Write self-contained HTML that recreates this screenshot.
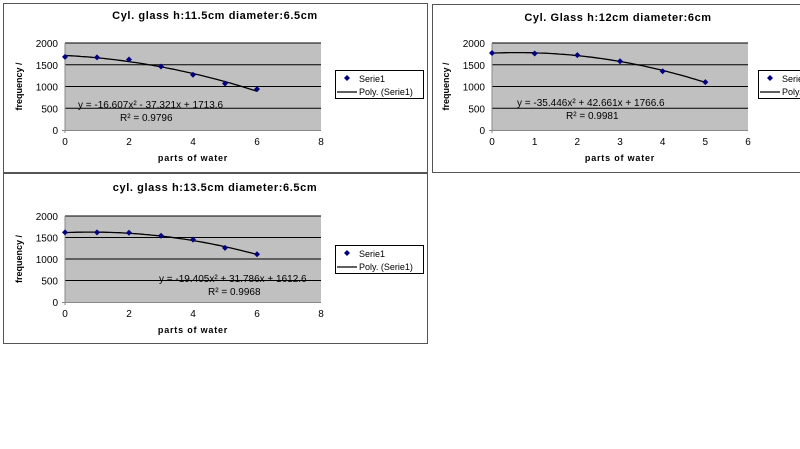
<!DOCTYPE html>
<html><head><meta charset="utf-8"><style>
html,body{margin:0;padding:0;background:#fff;width:800px;height:449px;overflow:hidden}
svg{display:block;font-family:"Liberation Sans",Arial,sans-serif}
</style></head><body>
<svg id="s" width="800" height="449"></svg>
<script>
const titles=["Cyl. glass h:11.5cm diameter:6.5cm","Cyl. Glass h:12cm  diameter:6cm","cyl. glass h:13.5cm diameter:6.5cm"];
const serie1=[1680,1670,1620,1460,1270,1070,940];
const serie2=[1770,1760,1720,1580,1350,1100];
const serie3=[1620,1620,1610,1540,1450,1260,1110];
const coef1=[-16.607,-37.321,1713.6];
const coef2=[-35.446,42.661,1766.6];
const coef3=[-19.405,31.786,1612.6];
const eqs=["y = -16.607x² - 37.321x + 1713.6","y = -35.446x² + 42.661x + 1766.6","y = -19.405x² + 31.786x + 1612.6"];
const r2s=["R² = 0.9796","R² = 0.9981","R² = 0.9968"];
const yTicks=[0,500,1000,1500,2000];
const xTicks1=[0,2,4,6,8], xTicks2=[0,1,2,3,4,5,6];
const NS="http://www.w3.org/2000/svg";
const svg=document.getElementById('s');
function mk(t,a,p,txt){const e=document.createElementNS(NS,t);for(const k in a)e.setAttribute(k,a[k]);if(txt!=null)e.textContent=txt;(p||svg).appendChild(e);return e;}
const cfg=[
 {box:[3,3,424,169],px0:65,px1:321,xmax:8,py0:130,py1:43,xt:xTicks1,data:serie1,coef:coef1,leg:[335,70],eq:[78,108],r2:[120,121],tx:215,ty:19},
 {box:[432,4,380,168],px0:492,px1:748,xmax:6,py0:130,py1:43,xt:xTicks2,data:serie2,coef:coef2,leg:[758,70],eq:[517,106],r2:[566,119],tx:618,ty:21},
 {box:[3,173,424,170],px0:65,px1:321,xmax:8,py0:302,py1:216,xt:xTicks1,data:serie3,coef:coef3,leg:[335,245],eq:[159,282],r2:[208,295],tx:215,ty:191}
];
cfg.forEach((c,i)=>{
 const g=mk('g',{});
 
 
 const b=mk('rect',{x:c.box[0]+.5,y:c.box[1]+.5,width:c.box[2],height:c.box[3],fill:'#fff',stroke:'#555','stroke-width':1},g);
 
 
 const X=v=>c.px0+(c.px1-c.px0)*v/c.xmax;
 const Y=v=>c.py0+(c.py1-c.py0)*v/2000;
 const t=mk('text',{x:c.tx,y:c.ty,'text-anchor':'middle','font-size':11,'font-weight':'bold','letter-spacing':'0.6'},g,titles[i]);
 
 
 const pa=mk('rect',{x:c.px0,y:Y(2000),width:c.px1-c.px0,height:Y(0)-Y(2000),fill:'#c0c0c0'},g);
 
 
 yTicks.forEach(v=>{
  if(v>0){const l=mk('line',{x1:c.px0,x2:c.px1,y1:Y(v),y2:Y(v),stroke:'#000','stroke-width':1},g);
  
  }
  const tl=mk('text',{x:c.px0-7,y:Y(v)+4,'text-anchor':'end','font-size':10},g,String(v));
  
  
 });
 mk('line',{x1:c.px0,x2:c.px0,y1:Y(2000),y2:Y(0)+3,stroke:'#888'},g);
 mk('line',{x1:c.px0-3,x2:c.px1,y1:Y(0)+.5,y2:Y(0)+.5,stroke:'#888'},g);
 c.xt.forEach(v=>{
  const xl=mk('text',{x:X(v),y:Y(0)+15,'text-anchor':'middle','font-size':10},g,String(v));
  
  
 });
 const xa=mk('text',{x:(c.px0+c.px1)/2,y:Y(0)+31,'text-anchor':'middle','font-size':9,'font-weight':'bold','letter-spacing':'0.8'},g,'parts of water');
 
 
 const ya=mk('text',{x:0,y:0,'text-anchor':'middle','font-size':9,'font-weight':'bold',transform:`translate(${c.px0-43},${(c.py0+c.py1)/2}) rotate(-90)`},g,'frequency /');
 
 
 let d='';const n=c.data.length-1;
 for(let k=0;k<=60;k++){const xv=n*k/60;const yv=c.coef[0]*xv*xv+c.coef[1]*xv+c.coef[2];d+=(k?'L':'M')+X(xv).toFixed(1)+','+Y(yv).toFixed(1);}
 const tr=mk('path',{d:d,fill:'none',stroke:'#000','stroke-width':1.3},g);
 
 
 c.data.forEach((v,k)=>{
  const p=mk('path',{d:`M${X(k)},${Y(v)-3}L${X(k)+3},${Y(v)}L${X(k)},${Y(v)+3}L${X(k)-3},${Y(v)}Z`,fill:'#000080'},g);
  
  
 });
 const e=mk('text',{x:c.eq[0],y:c.eq[1],'font-size':10},g,eqs[i]);
 
 
 const r=mk('text',{x:c.r2[0],y:c.r2[1],'font-size':10},g,r2s[i]);
 
 
 const lg=mk('g',{},g);
 
 
 const L=c.leg;
 mk('rect',{x:L[0]+.5,y:L[1]+.5,width:88,height:28,fill:'#fff',stroke:'#000'},lg);
 mk('path',{d:`M${L[0]+12},${L[1]+5}L${L[0]+15},${L[1]+8}L${L[0]+12},${L[1]+11}L${L[0]+9},${L[1]+8}Z`,fill:'#000080'},lg);
 const l1=mk('text',{x:L[0]+24,y:L[1]+12,'font-size':9},lg,'Serie1');
 
 
 mk('line',{x1:L[0]+2,x2:L[0]+22,y1:L[1]+22,y2:L[1]+22,stroke:'#000','stroke-width':1.3},lg);
 const l2=mk('text',{x:L[0]+24,y:L[1]+25,'font-size':9},lg,'Poly. (Serie1)');
 
 
});
</script>
</body></html>
